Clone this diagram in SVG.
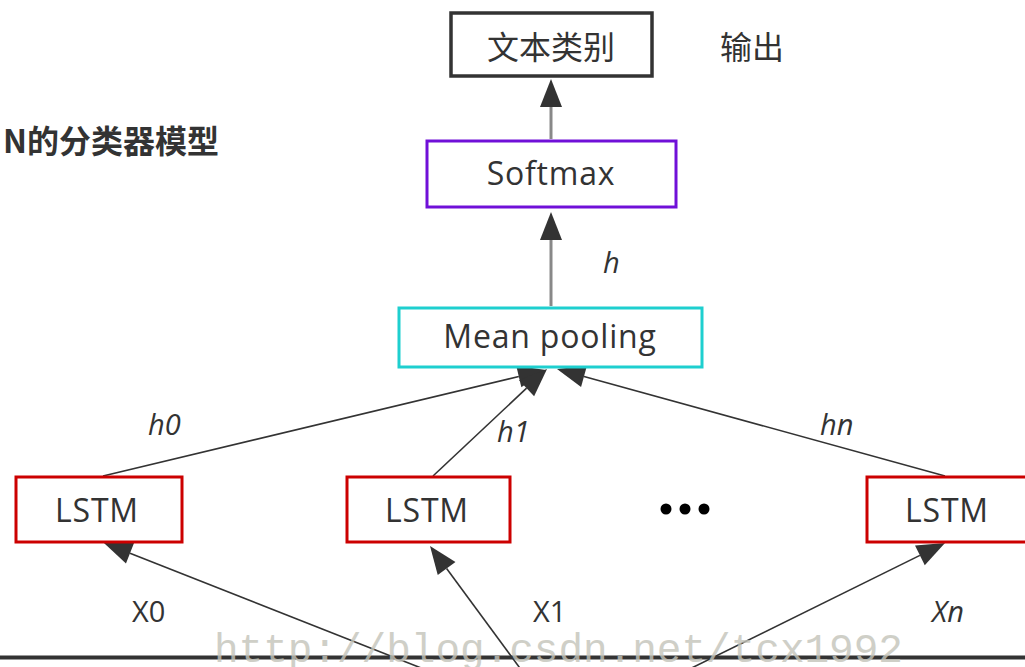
<svg xmlns="http://www.w3.org/2000/svg" width="1025" height="667" viewBox="0 0 1025 667">
  <style>
    .box { fill: #ffffff; stroke-width: 3; }
    .out { stroke: #333333; stroke-width: 3.5; }
    .soft { stroke: #7010d8; }
    .pool { stroke: #1ecfcf; }
    .cell { stroke: #cc0000; }
    .lbl { font-family: "Open Sans", "Noto Sans", "Liberation Sans", sans-serif; font-size: 32px; letter-spacing: 0.8px; fill: #333333; text-anchor: middle; }
    .cjk { font-family: "Noto Sans CJK SC", "Noto Sans", sans-serif; font-size: 32px; fill: #333333; }
    .it { font-family: "Open Sans", "Noto Sans", "Liberation Sans", sans-serif; font-size: 29px; font-style: italic; fill: #333333; }
    .up { font-family: "Open Sans", "Noto Sans", "Liberation Sans", sans-serif; font-size: 29px; fill: #333333; }
    .thick { stroke: #888888; stroke-width: 3; fill: none; }
    .thin { stroke: #333333; stroke-width: 1.6; fill: none; }
  </style>
  <defs>
    <marker id="head" markerUnits="userSpaceOnUse" markerWidth="30" markerHeight="24" refX="0" refY="11" orient="auto" overflow="visible">
      <path d="M0,0 L28,11 L0,22 Z" fill="#333333"/>
    </marker>
  </defs>

  <rect width="1025" height="667" fill="#ffffff"/>

  <!-- heading, cut at the left edge -->
  <text class="cjk" x="219" y="139" text-anchor="end" dominant-baseline="central" font-weight="bold" font-size="33" fill="#444444">N的分类器模型</text>

  <!-- side note -->
  <text class="cjk" x="720" y="45" dominant-baseline="central">输出</text>

  <!-- connectors -->
  <g id="connectors">
    <line class="thick" x1="551" y1="139" x2="551" y2="107" marker-end="url(#head)"/>
    <line class="thick" x1="551" y1="306" x2="551" y2="240" marker-end="url(#head)"/>

    <line class="thin" x1="103" y1="476" x2="518.8" y2="376.5" marker-end="url(#head)"/>
    <line class="thin" x1="433" y1="476" x2="526.6" y2="388.2" marker-end="url(#head)"/>
    <line class="thin" x1="945" y1="476" x2="584" y2="376.4" marker-end="url(#head)"/>

    <line class="thin" x1="477" y1="690" x2="130" y2="553.3" marker-end="url(#head)"/>
    <line class="thin" x1="536" y1="690" x2="446.6" y2="568.5" marker-end="url(#head)"/>
    <line class="thin" x1="647" y1="690" x2="919.9" y2="555.4" marker-end="url(#head)"/>
  </g>

  <!-- edge labels -->
  <g id="edge-labels">
    <text class="it" x="603" y="273">h</text>
    <text class="it" x="148" y="435">h0</text>
    <text class="it" x="497" y="442">h1</text>
    <text class="it" x="820" y="435">hn</text>
    <text class="up" x="132" y="622">X0</text>
    <text class="up" x="533" y="622">X1</text>
    <text class="it" x="932" y="622">Xn</text>
  </g>

  <g id="node-class">
    <rect class="box out" x="451" y="13" width="201" height="63"/>
    <text class="cjk" x="551" y="45" text-anchor="middle" dominant-baseline="central">文本类别</text>
  </g>

  <g id="node-softmax">
    <rect class="box soft" x="427" y="141" width="249" height="66"/>
    <text class="lbl" x="551" y="185">Softmax</text>
  </g>

  <g id="node-pool">
    <rect class="box pool" x="399" y="308" width="303" height="59"/>
    <text class="lbl" x="550" y="348">Mean pooling</text>
  </g>

  <g id="node-lstm0">
    <rect class="box cell" x="16" y="477" width="166" height="65"/>
    <text class="lbl" x="97" y="522">LSTM</text>
  </g>

  <g id="node-lstm1">
    <rect class="box cell" x="347" y="477" width="163" height="65"/>
    <text class="lbl" x="427" y="522">LSTM</text>
  </g>

  <g id="node-lstmn">
    <rect class="box cell" x="867" y="477" width="166" height="65"/>
    <text class="lbl" x="947" y="522">LSTM</text>
  </g>

  <!-- ellipsis between cells -->
  <g id="ellipsis" fill="#000000">
    <circle cx="666" cy="509" r="5.5"/>
    <circle cx="685" cy="509" r="5.5"/>
    <circle cx="704" cy="509" r="5.5"/>
  </g>

  <!-- base line -->
  <line x1="0" y1="657.5" x2="1025" y2="657.5" stroke="#333333" stroke-width="4"/>

  <!-- watermark -->
  <text x="214" y="662" font-family="Liberation Mono, DejaVu Sans Mono, monospace" font-size="41" fill="#c4c4ba" opacity="0.8">http://blog.csdn.net/tcx1992</text>
</svg>
